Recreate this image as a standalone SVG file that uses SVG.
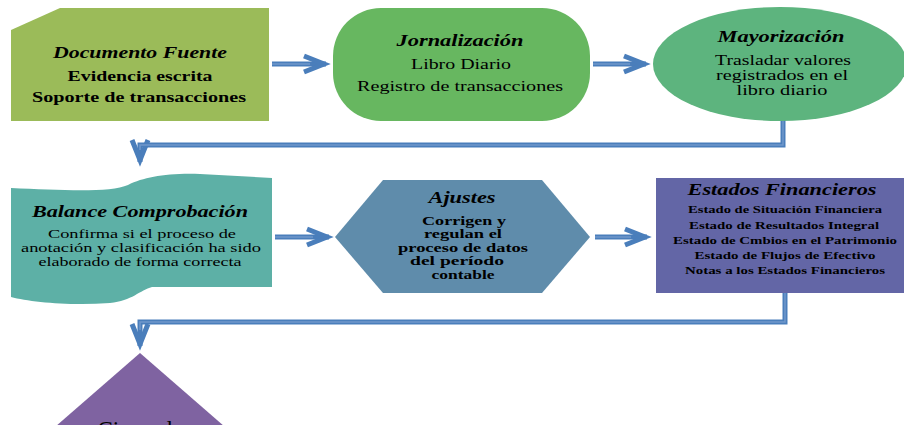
<svg xmlns="http://www.w3.org/2000/svg" width="904" height="425" viewBox="0 0 904 425">
<style>
text{font-family:"Liberation Serif","Times New Roman",serif;fill:#000;text-anchor:middle}
.t{font-weight:bold;font-style:italic;font-size:17px}
.b{font-weight:bold;font-size:15px}
.bs{font-weight:bold;font-size:12.5px}
.r{font-size:15px}
.rs{font-size:13.5px}
.s{font-weight:bold;font-size:11px}
.ln{fill:none;stroke:#4A7EBB;stroke-width:5;stroke-linejoin:miter}
.li{fill:none;stroke:#7098CC;stroke-width:1.5}
</style>
<defs>
<marker id="ah" markerUnits="userSpaceOnUse" markerWidth="40" markerHeight="30" viewBox="-30 -15 40 30" refX="0" refY="0" orient="auto" overflow="visible">
<path d="M-22,-8 L-2,0 L-22,8" fill="none" stroke="#4A7EBB" stroke-width="5"/>
</marker>
</defs>
<rect width="904" height="425" fill="#fff"/>
<g id="connectors">
<path class="ln" d="M272,64 L326,64" marker-end="url(#ah)"/>
<path class="ln" d="M593,64 L646,64" marker-end="url(#ah)"/>
<path class="ln" d="M783,120 L783,145 L140,145 L140,162" marker-end="url(#ah)"/>
<path class="ln" d="M275,237 L329,237" marker-end="url(#ah)"/>
<path class="ln" d="M595,237 L647,237" marker-end="url(#ah)"/>
<path class="ln" d="M785,293 L785,322 L140,322 L140,346" marker-end="url(#ah)"/>
<path class="li" d="M272,64 L310,64 M593,64 L630,64 M783,120 L783,145 L140,145 L140,150 M275,237 L313,237 M595,237 L631,237 M785,293 L785,322 L140,322 L140,330"/>
</g>
<g id="documento">
<path d="M11,30 L60,8 L269,8 L269,121 L11,121 Z" fill="#9BBB59"/>
<text class="t" x="140" y="58" textLength="174" lengthAdjust="spacingAndGlyphs">Documento Fuente</text>
<text class="b" x="140" y="81" textLength="145" lengthAdjust="spacingAndGlyphs">Evidencia escrita</text>
<text class="b" x="139" y="102" textLength="214" lengthAdjust="spacingAndGlyphs">Soporte de transacciones</text>
</g>
<g id="jornalizacion">
<rect x="333" y="8" width="257" height="113" rx="48" ry="48" fill="#67B760"/>
<text class="t" x="460" y="46" textLength="127" lengthAdjust="spacingAndGlyphs">Jornalización</text>
<text class="r" x="461" y="69" font-size="16" textLength="100" lengthAdjust="spacingAndGlyphs">Libro Diario</text>
<text class="r" x="460" y="91" font-size="16" textLength="206" lengthAdjust="spacingAndGlyphs">Registro de transacciones</text>
</g>
<g id="mayorizacion">
<ellipse cx="780" cy="64" rx="127" ry="57" fill="#5DB47E"/>
<text class="t" x="781" y="42" textLength="127" lengthAdjust="spacingAndGlyphs">Mayorización</text>
<text class="r" x="783" y="65" textLength="136" lengthAdjust="spacingAndGlyphs">Trasladar valores</text>
<text class="r" x="782" y="80" textLength="132" lengthAdjust="spacingAndGlyphs">registrados en el</text>
<text class="r" x="782" y="95" textLength="91" lengthAdjust="spacingAndGlyphs">libro diario</text>
</g>
<g id="balance">
<path d="M11,188 C60,190 110,193 128,185 C145,177 165,173 200,174 L272,178 L272,287 L152,287 C140,290 132,301 110,303 C70,306 30,302 11,297 Z" fill="#5DB0A6"/>
<text class="t" x="140" y="217" textLength="216" lengthAdjust="spacingAndGlyphs">Balance Comprobación</text>
<text class="rs" x="142" y="238" textLength="188" lengthAdjust="spacingAndGlyphs">Confirma si el proceso de</text>
<text class="rs" x="141" y="252" textLength="240" lengthAdjust="spacingAndGlyphs">anotación y clasificación ha sido</text>
<text class="rs" x="140" y="266" textLength="203" lengthAdjust="spacingAndGlyphs">elaborado de forma correcta</text>
</g>
<g id="ajustes">
<path d="M335,237 L383,180 L542,180 L590,237 L542,293 L383,293 Z" fill="#5F8CAB"/>
<text class="t" x="462" y="203" textLength="67" lengthAdjust="spacingAndGlyphs">Ajustes</text>
<text class="bs" x="464" y="225" textLength="84" lengthAdjust="spacingAndGlyphs">Corrigen y</text>
<text class="bs" x="463" y="238" textLength="78" lengthAdjust="spacingAndGlyphs">regulan el</text>
<text class="bs" x="463" y="252" textLength="130" lengthAdjust="spacingAndGlyphs">proceso de datos</text>
<text class="bs" x="457" y="265" textLength="94" lengthAdjust="spacingAndGlyphs">del período</text>
<text class="bs" x="463" y="279" textLength="63" lengthAdjust="spacingAndGlyphs">contable</text>
</g>
<g id="estados">
<rect x="656" y="178" width="250" height="115" fill="#6366A6"/>
<text class="t" x="782" y="195" textLength="189" lengthAdjust="spacingAndGlyphs">Estados Financieros</text>
<text class="s" x="785" y="213" textLength="194" lengthAdjust="spacingAndGlyphs">Estado de Situación Financiera</text>
<text class="s" x="784" y="229" textLength="190" lengthAdjust="spacingAndGlyphs">Estado de Resultados Integral</text>
<text class="s" x="785" y="244" textLength="224" lengthAdjust="spacingAndGlyphs">Estado de Cmbios en el Patrimonio</text>
<text class="s" x="785" y="259" textLength="181" lengthAdjust="spacingAndGlyphs">Estado de Flujos de Efectivo</text>
<text class="s" x="785" y="274" textLength="200" lengthAdjust="spacingAndGlyphs">Notas a los Estados Financieros</text>
</g>
<g id="cierre">
<path d="M140,353 L240,440 L40,440 Z" fill="#7F63A1"/>
<text x="140" y="437" font-size="23">Cierre de</text>
</g>
</svg>
